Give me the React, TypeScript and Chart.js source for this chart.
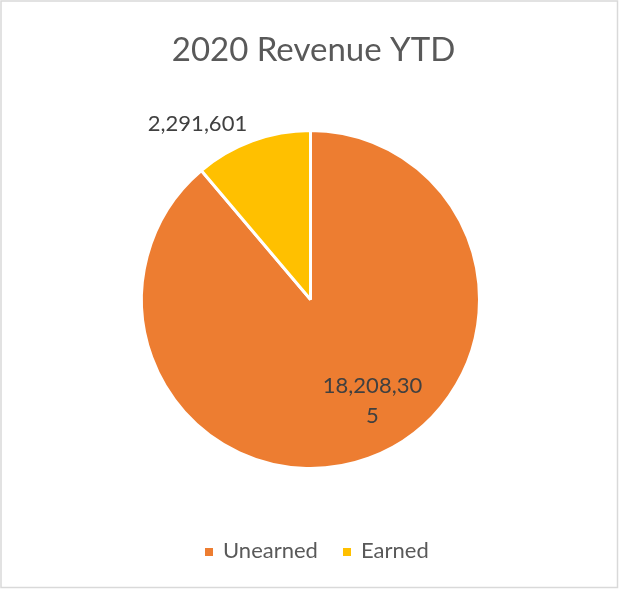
import React, { useEffect, useRef } from "react";
import { Chart, registerables } from "chart.js";

Chart.register(...registerables);

const title = "2020 Revenue YTD";
const categories = ["Unearned", "Earned"];
const values = [18208305, 2291601];
const colors = ["#ED7D31", "#FFC000"];

const FONT = "Lato, 'Open Sans', sans-serif";

const fmt = (v: number) => v.toLocaleString("en-US");

const decorPlugin = {
  id: "decor",
  afterDraw(chart: any) {
    const ctx = chart.ctx;
    ctx.save();
    // frame
    ctx.strokeStyle = "#D9D9D9";
    ctx.lineWidth = 1.5;
    ctx.strokeRect(1, 1, 616.5, 586.5);

    // title
    ctx.fillStyle = "#595959";
    ctx.font = `33px ${FONT}`;
    ctx.textAlign = "center";
    ctx.textBaseline = "alphabetic";
    ctx.fillText(title, 313.5, 61);

    // data labels
    const meta = chart.getDatasetMeta(0);
    ctx.fillStyle = "#404040";
    ctx.font = `22px ${FONT}`;
    if (meta.data[1]) {
      ctx.fillText(fmt(values[1]), 197.5, 131);
    }
    if (meta.data[0]) {
      const s = fmt(values[0]);
      ctx.fillText(s.slice(0, 9), 372.5, 393);
      ctx.fillText(s.slice(9), 372.5, 423);
    }

    // legend
    ctx.font = `22px ${FONT}`;
    ctx.textAlign = "left";
    ctx.fillStyle = colors[0];
    ctx.fillRect(205, 548, 8, 8);
    ctx.fillStyle = "#595959";
    ctx.fillText(categories[0], 223, 558);
    ctx.fillStyle = colors[1];
    ctx.fillRect(343, 548, 8, 8);
    ctx.fillStyle = "#595959";
    ctx.fillText(categories[1], 361, 558);
    ctx.restore();
  },
};

export default function App() {
  const ref = useRef<HTMLCanvasElement | null>(null);
  useEffect(() => {
    if (!ref.current) return;
    const chart = new Chart(ref.current, {
      type: "pie",
      data: {
        labels: categories,
        datasets: [
          {
            data: values,
            backgroundColor: colors,
            borderColor: "#FFFFFF",
            borderWidth: 3,
            radius: 169,
          },
        ],
      },
      options: {
        responsive: false,
        animation: false,
        layout: { padding: { left: 142, right: 141, top: 131, bottom: 121 } },
        plugins: {
          legend: { display: false },
          title: { display: false },
          tooltip: { enabled: false },
        },
      },
      plugins: [decorPlugin],
    });
    return () => chart.destroy();
  }, []);
  return (
    <div style={{ position: "absolute", left: 0, top: 0, width: 620, height: 589, background: "#fff" }}>
      <canvas ref={ref} width={620} height={589} style={{ width: 620, height: 589 }} />
    </div>
  );
}
